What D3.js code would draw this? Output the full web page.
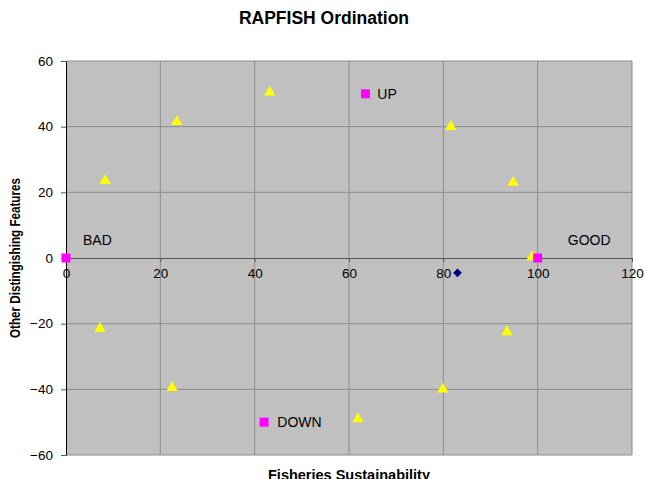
<!DOCTYPE html>
<html>
<head>
<meta charset="utf-8">
<script src="https://cdn.jsdelivr.net/npm/d3@7"></script>
<style>
  body { margin: 0; background: #fff; }
  text { font-family: "Liberation Sans", Arial, sans-serif; }
</style>
</head>
<body>
<svg id="chart" width="645" height="479"></svg>
<script>
  // scores
  const fisheries = [[8.3, 23.5], [23.5, 41.5], [43.2, 50.5], [81.6, 40], [94.8, 23], [98.8, 0.3],
                     [93.5, -22.5], [79.9, -40], [61.9, -49], [22.5, -39.5], [7.2, -21.5]]
  const anchors = [[0, 0], [100, 0], [63.5, 50], [42, -50]]
  const reference = [[83, -4.5]]
  const anchorLabels = [
    { name: "BAD", x: 3.6, y: 5.5 },
    { name: "GOOD", x: 106.4, y: 5.5 },
    { name: "UP", x: 66, y: 50 },
    { name: "DOWN", x: 44.8, y: -50 }
  ]
  const xTicks = [0, 20, 40, 60, 80, 100, 120]
  const yTicks = [-60, -40, -20, 0, 20, 40, 60]

  const width = 645, height = 479
  const margin = { top: 61, right: 13, bottom: 24, left: 66 }
  const innerWidth = width - margin.left - margin.right
  const innerHeight = height - margin.top - margin.bottom

  const svg = d3.select("#chart")

  const xScale = d3.scaleLinear().domain([0, 120]).range([0, innerWidth])
  const yScale = d3.scaleLinear().domain([-60, 60]).range([innerHeight, 0])

  const g = svg.append("g").attr("transform", `translate(${margin.left}, ${margin.top})`)

  g.append("rect").attr("width", innerWidth).attr("height", innerHeight).attr("fill", "#c0c0c0")

  // grid
  g.selectAll("line.vgrid").data(xTicks.slice(1)).join("line")
    .attr("x1", d => xScale(d)).attr("x2", d => xScale(d))
    .attr("y1", 0).attr("y2", innerHeight)
    .attr("stroke", "#8c8c8c").attr("stroke-width", 1)
  g.selectAll("line.hgrid").data(yTicks.filter(d => d !== 0)).join("line")
    .attr("x1", 0).attr("x2", innerWidth)
    .attr("y1", d => yScale(d)).attr("y2", d => yScale(d))
    .attr("stroke", "#8c8c8c").attr("stroke-width", 1)

  // x axis sits on y = 0
  const xAxis = d3.axisBottom(xScale).tickValues(xTicks).tickSize(4).tickSizeOuter(0)
  const xg = g.append("g").attr("transform", `translate(0, ${yScale(0)})`).call(xAxis)
  xg.select(".domain").attr("stroke", "#555")
  xg.selectAll(".tick line").attr("stroke", "#555")
  xg.selectAll(".tick text").attr("font-size", 13.5).attr("fill", "#000").attr("dy", "0.95em")

  const yAxis = d3.axisLeft(yScale).tickValues(yTicks).tickSize(5).tickSizeOuter(0)
  const yg = g.append("g").call(yAxis)
  yg.select(".domain").attr("stroke", "#000")
  yg.selectAll(".tick line").attr("stroke", "#555")
  yg.selectAll(".tick text").attr("font-size", 13.5).attr("fill", "#000").attr("x", -13)

  // markers
  const tri = d3.symbol().type(d3.symbolTriangle).size(56)
  g.selectAll("path.fish").data(fisheries).join("path")
    .attr("transform", d => `translate(${xScale(d[0])}, ${yScale(d[1])})`)
    .attr("d", tri).attr("fill", "#ffff00")

  g.selectAll("rect.anchor").data(anchors).join("rect")
    .attr("x", d => xScale(d[0]) - 4.5).attr("y", d => yScale(d[1]) - 4.5)
    .attr("width", 9).attr("height", 9).attr("fill", "#ff00ff")

  g.selectAll("path.ref").data(reference).join("path")
    .attr("transform", d => `translate(${xScale(d[0])}, ${yScale(d[1])}) rotate(45)`)
    .attr("d", d3.symbol().type(d3.symbolSquare).size(38)).attr("fill", "#000080")

  g.selectAll("text.lbl").data(anchorLabels).join("text")
    .attr("x", d => xScale(d.x)).attr("y", d => yScale(d.y))
    .attr("dy", "0.35em").attr("font-size", 14).attr("fill", "#000")
    .text(d => d.name)

  // titles
  svg.append("text").attr("x", 324).attr("y", 24).attr("text-anchor", "middle")
    .attr("font-size", 17.5).attr("font-weight", "bold").text("RAPFISH Ordination")
  svg.append("text").attr("x", 349).attr("y", 480)
    .attr("text-anchor", "middle").attr("font-size", 14.5).attr("font-weight", "bold")
    .text("Fisheries Sustainability")
  svg.append("text").attr("transform", `translate(20, 258) rotate(-90)`)
    .attr("text-anchor", "middle").attr("font-size", 14).attr("font-weight", "bold")
    .attr("textLength", 160).attr("lengthAdjust", "spacingAndGlyphs")
    .text("Other Distingishing Features")
</script>
</body>
</html>
